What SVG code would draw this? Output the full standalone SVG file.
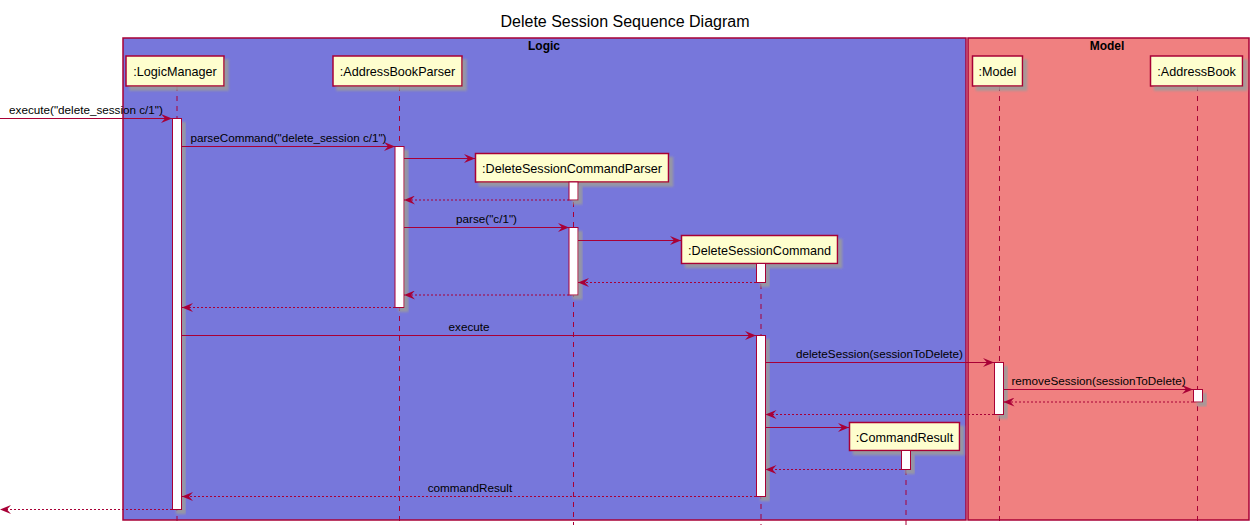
<svg xmlns="http://www.w3.org/2000/svg" width="1253" height="530" viewBox="0 0 1253 530">
<style>
.t{font-family:"Liberation Sans",Arial,sans-serif;fill:#000}
.title{font-size:16px}
.box{font-size:12px;font-weight:bold}
.pt{font-size:12.6px}
.ml{font-size:11.7px;text-anchor:middle}
.p{fill:#FEFECE;stroke:#A80036;stroke-width:1.5}
.act{fill:#FFFFFF;stroke:#A80036;stroke-width:1}
.life{stroke:#A80036;stroke-width:1;stroke-dasharray:5,5;fill:none}
.msg{stroke:#A80036;stroke-width:1;fill:none;marker-end:url(#ah)}
.ret{stroke:#A80036;stroke-width:1;fill:none;stroke-dasharray:2,2;marker-end:url(#ah)}
</style>
<defs>
<marker id="ah" viewBox="0 0 11 9" refX="11" refY="4.5" markerWidth="11" markerHeight="9" markerUnits="userSpaceOnUse" orient="auto">
<path d="M0,0 L11,4.5 L0,9 L4,4.5 Z" fill="#A80036"/>
</marker>
<filter id="sh" x="-30%" y="-20%" width="180%" height="160%">
<feGaussianBlur in="SourceAlpha" stdDeviation="1.2" result="b"/>
<feOffset dx="3.5" dy="3.5" in="b" result="o"/>
<feColorMatrix in="o" type="matrix" values="0 0 0 0 0.33  0 0 0 0 0.33  0 0 0 0 0.33  0 0 0 0.85 0" result="c"/>
<feMerge><feMergeNode in="c"/><feMergeNode in="SourceGraphic"/></feMerge>
</filter>
</defs>
<rect width="1253" height="530" fill="#FFFFFF"/>
<text class="t title" x="625" y="27" text-anchor="middle">Delete Session Sequence Diagram</text>
<g id="box-logic">
<rect x="123" y="38" width="843" height="482" fill="#7777DB" stroke="#A80036" stroke-width="1.5"/>
<text class="t box" x="544" y="50" text-anchor="middle">Logic</text>
</g>
<g id="box-model">
<rect x="968" y="38" width="281" height="482" fill="#F08080" stroke="#A80036" stroke-width="1.5"/>
<text class="t box" x="1107" y="50" text-anchor="middle">Model</text>
</g>
<g id="lifelines">
<line class="life" x1="177" y1="86" x2="177" y2="525"/>
<line class="life" x1="399.5" y1="86" x2="399.5" y2="525"/>
<line class="life" x1="573.5" y1="182" x2="573.5" y2="525"/>
<line class="life" x1="761" y1="264" x2="761" y2="525"/>
<line class="life" x1="906" y1="450" x2="906" y2="525"/>
<line class="life" x1="999.5" y1="86" x2="999.5" y2="525"/>
<line class="life" x1="1197.5" y1="86" x2="1197.5" y2="525"/>
</g>
<g id="LogicManager">
<rect class="p" x="126" y="56" width="98" height="30" filter="url(#sh)"/>
<text class="t pt" x="175" y="76" text-anchor="middle">:LogicManager</text>
<rect class="act" x="172.5" y="118.5" width="9" height="391" filter="url(#sh)"/>
</g>
<g id="AddressBookParser">
<rect class="p" x="333" y="56" width="129" height="30" filter="url(#sh)"/>
<text class="t pt" x="397.5" y="76" text-anchor="middle">:AddressBookParser</text>
<rect class="act" x="395" y="146.5" width="9" height="161" filter="url(#sh)"/>
</g>
<g id="DeleteSessionCommandParser">
<rect class="p" x="475.5" y="153.5" width="193" height="28.5" filter="url(#sh)"/>
<text class="t pt" x="572" y="173" text-anchor="middle">:DeleteSessionCommandParser</text>
<rect class="act" x="569" y="182" width="9" height="18" filter="url(#sh)"/>
<rect class="act" x="569" y="227.5" width="9" height="67.5" filter="url(#sh)"/>
</g>
<g id="DeleteSessionCommand">
<rect class="p" x="681.5" y="235.5" width="156" height="28" filter="url(#sh)"/>
<text class="t pt" x="759.5" y="254.5" text-anchor="middle">:DeleteSessionCommand</text>
<rect class="act" x="756.5" y="263.5" width="9" height="19" filter="url(#sh)"/>
<rect class="act" x="756.5" y="335.5" width="9" height="161" filter="url(#sh)"/>
</g>
<g id="CommandResult">
<rect class="p" x="849.5" y="422.5" width="110" height="28" filter="url(#sh)"/>
<text class="t pt" x="904.5" y="441.5" text-anchor="middle">:CommandResult</text>
<rect class="act" x="901.5" y="450.5" width="9" height="19" filter="url(#sh)"/>
</g>
<g id="Model">
<rect class="p" x="972.5" y="56" width="50" height="30" filter="url(#sh)"/>
<text class="t pt" x="997.5" y="76" text-anchor="middle">:Model</text>
<rect class="act" x="994.5" y="362.5" width="9" height="52" filter="url(#sh)"/>
</g>
<g id="AddressBook">
<rect class="p" x="1150.5" y="56" width="92" height="30" filter="url(#sh)"/>
<text class="t pt" x="1196.5" y="76" text-anchor="middle">:AddressBook</text>
<rect class="act" x="1193.5" y="389.5" width="9" height="12.5" filter="url(#sh)"/>
</g>
<g id="connectors">
<line class="msg" x1="0" y1="118.5" x2="172" y2="118.5"/>
<text class="t ml" x="86" y="114">execute("delete_session c/1")</text>
<line class="msg" x1="182" y1="146.5" x2="395" y2="146.5"/>
<text class="t ml" x="288.5" y="142">parseCommand("delete_session c/1")</text>
<line class="msg" x1="404" y1="158.5" x2="475" y2="158.5"/>
<line class="ret" x1="569" y1="200" x2="404" y2="200"/>
<line class="msg" x1="404" y1="227.5" x2="569" y2="227.5"/>
<text class="t ml" x="486.5" y="223">parse("c/1")</text>
<line class="msg" x1="578" y1="240.5" x2="681" y2="240.5"/>
<line class="ret" x1="756" y1="282.5" x2="578" y2="282.5"/>
<line class="ret" x1="569" y1="295" x2="404" y2="295"/>
<line class="ret" x1="395" y1="307.5" x2="182" y2="307.5"/>
<line class="msg" x1="182" y1="335.5" x2="756" y2="335.5"/>
<text class="t ml" x="469" y="331">execute</text>
<line class="msg" x1="765.5" y1="362.5" x2="994" y2="362.5"/>
<text class="t ml" x="879.5" y="358">deleteSession(sessionToDelete)</text>
<line class="msg" x1="1003.5" y1="389.5" x2="1193" y2="389.5"/>
<text class="t ml" x="1098.5" y="385">removeSession(sessionToDelete)</text>
<line class="ret" x1="1193" y1="402" x2="1003.5" y2="402"/>
<line class="ret" x1="994" y1="414.5" x2="765.5" y2="414.5"/>
<line class="msg" x1="765.5" y1="427.5" x2="849" y2="427.5"/>
<line class="ret" x1="901" y1="469.5" x2="765.5" y2="469.5"/>
<line class="ret" x1="756" y1="496.5" x2="182" y2="496.5"/>
<text class="t ml" x="470" y="492">commandResult</text>
<line class="ret" x1="172" y1="509.5" x2="0" y2="509.5"/>
</g>
</svg>
